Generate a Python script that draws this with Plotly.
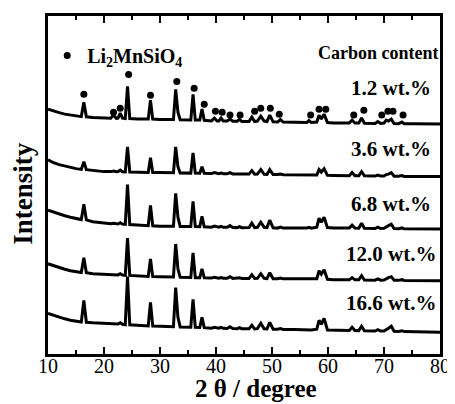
import plotly.graph_objects as go

two_theta = [10, 11, 12, 13, 14, 15,
             15.95, 16.4, 16.85,
             18, 20,
             21.2, 21.7, 22.2, 22.5, 22.9, 23.3,
             23.8, 24.2, 24.6,
             26,
             27.9, 28.3, 28.7,
             30,
             32.4, 32.8, 33.2, 33.6,
             35.5, 35.9, 36.3,
             37.1, 37.5, 37.9,
             39.2, 39.7, 40.2,
             40.5, 40.9, 41.3,
             42.0, 42.5, 43.0,
             43.8, 44.2, 44.6,
             45.9, 46.4, 46.9,
             47.4, 48.0, 48.6,
             49.1, 49.6, 50.2,
             51, 51.5, 52,
             54,
             56.2, 56.6, 57.0,
             58.0, 58.4, 58.8, 59.3, 59.9,
             61, 63,
             63.8, 64.3, 64.8,
             65.5, 66.0, 66.5,
             68.4, 68.9, 69.4,
             70.0, 70.4, 70.8, 71.3, 71.8,
             72.6, 73.2, 73.6,
             75, 77, 80]

carbon_labels = ["1.2 wt.%", "3.6 wt.%", "6.8 wt.%", "12.0 wt.%", "16.6 wt.%"]

# relative intensities (a.u.) of each pattern
i_1_2 = [15, 13, 11.5, 10, 9, 8,
         7.5, 22, 7.3,
         6.5, 6,
         5.8, 9, 5.7, 6, 11, 6,
         5.5, 38, 5.5,
         5,
         5, 24, 5,
         4.5,
         4.5, 35, 12, 4.3,
         4, 30, 4,
         4, 15, 3.8,
         3.2, 6, 3,
         3, 6, 3,
         3, 5, 2.8,
         2.7, 5, 2.6,
         2.5, 7, 2.5,
         3, 8, 3,
         2.5, 9, 2.2,
         2, 4.5, 2,
         1.8,
         1.5, 3.5, 1.5,
         2, 9, 5, 10, 1.5,
         1, 1,
         1, 4, 1,
         1, 6, 0.8,
         0.6, 2.5, 0.6,
         1, 4, 3, 5, 0.5,
         0.4, 2, 0.3,
         0.3, 0.1, 0]

i_3_6 = [17, 14, 12, 10.5, 9, 8,
         7.2, 15, 7,
         6, 5,
         5, 5.5, 4.8, 5, 6.5, 4.8,
         4.7, 30, 4.7,
         4.5,
         4.2, 19, 4.2,
         4,
         3.8, 30, 10, 3.7,
         3.5, 24, 3.5,
         3.4, 10, 3.3,
         3, 4, 3,
         3, 3.5, 2.8,
         2.8, 4, 2.7,
         2.6, 3, 2.5,
         2.5, 6, 2.4,
         2.5, 7, 2.3,
         2.2, 7, 2,
         2, 2.5, 1.8,
         1.6,
         1.3, 2, 1.3,
         1.5, 7, 4.5, 8, 1.2,
         1, 0.9,
         0.8, 4, 0.8,
         0.8, 5, 0.7,
         0.5, 1.5, 0.5,
         0.6, 2, 2.5, 4, 0.4,
         0.3, 1, 0.2,
         0.2, 0.1, 0]

i_6_8 = [19, 17, 15, 13.5, 12, 10.5,
         9.6, 25, 9.3,
         7.5, 6,
         5.5, 6, 5.2, 5.2, 6.5, 5,
         4.8, 45, 4.6,
         4,
         3.5, 24, 3.4,
         3,
         2.8, 36, 12, 2.7,
         2.6, 28, 2.6,
         2.5, 13, 2.4,
         2, 3, 2,
         2, 2.8, 1.8,
         1.8, 3.5, 1.6,
         1.5, 2.5, 1.4,
         1.5, 6, 1.5,
         1.8, 7, 1.8,
         1.5, 9, 1.3,
         1, 2, 1,
         1,
         1, 1.8, 1,
         2, 11, 7, 12, 1.5,
         1, 1,
         1, 4, 1,
         0.9, 6, 0.8,
         0.6, 2, 0.6,
         0.8, 2.5, 3.5, 5, 0.5,
         0.4, 1.2, 0.3,
         0.2, 0.1, 0]

i_12_0 = [17, 15, 13, 11.5, 10, 9,
          8.2, 23, 8,
          7, 6.5,
          6, 6.5, 5.8, 5.8, 7, 5.6,
          5.4, 43, 5.3,
          5,
          4.3, 22, 4.2,
          4,
          3.6, 37, 12, 3.4,
          3.1, 28, 3,
          3, 12, 2.9,
          2.6, 3.5, 2.5,
          2.5, 3.2, 2.4,
          2.4, 4, 2.3,
          2.3, 3, 2.2,
          2.2, 6, 2.2,
          2.4, 7, 2.3,
          2.1, 8, 2,
          1.9, 2.6, 1.8,
          1.6,
          1.3, 2, 1.3,
          1.8, 10, 6.5, 11, 1.3,
          1, 0.9,
          0.8, 3, 0.8,
          0.8, 5, 0.7,
          0.5, 1.8, 0.5,
          0.6, 2.2, 3, 4, 0.4,
          0.3, 1, 0.2,
          0.2, 0.1, 0]

i_16_6 = [19, 17, 15, 13.5, 12, 11,
          10.2, 32, 10,
          9.5, 9,
          8.6, 9, 8.3, 8.2, 9.5, 8,
          7.6, 56, 7.4,
          7,
          6.3, 30, 6.2,
          6,
          5.5, 45, 15, 5.3,
          5, 33, 5,
          4.7, 15, 4.6,
          4.1, 5, 4,
          4, 4.8, 3.9,
          3.8, 5.5, 3.7,
          3.6, 4.5, 3.5,
          3.4, 7, 3.3,
          3.6, 9, 3.4,
          3.2, 10, 3,
          2.9, 3.6, 2.8,
          2.6,
          2.3, 3, 2.3,
          3, 12, 8, 14, 2.2,
          2, 1.8,
          1.7, 5, 1.7,
          1.6, 6, 1.5,
          1.2, 2.5, 1.1,
          1.2, 3, 4, 6, 0.9,
          0.8, 1.5, 0.6,
          0.5, 0.3, 0]

patterns = [i_1_2, i_3_6, i_6_8, i_12_0, i_16_6]

# Li2MnSiO4 reflection markers (2-theta, relative intensity on the 1.2 wt.% pattern scale)
peak_2theta = [16.4, 21.7, 22.9, 24.4, 28.3, 33.0, 36.1, 37.9, 39.9, 41.1, 42.5, 44.3,
               46.9, 48.0, 49.7, 51.3, 56.9, 58.4, 59.6, 64.6, 66.4, 69.6, 70.7, 71.6, 73.4]
peak_mark = [30, 12, 16, 50, 29, 43, 36, 20, 13, 12, 9, 9,
             13, 16, 16, 10, 9, 15, 15, 9, 14, 9, 13, 13, 9]

# vertical stacking offsets (layout)
offsets = [232, 179, 126, 74, 22]
label_y = [268, 207, 151, 101, 51]

FONT = "Liberation Serif, Times New Roman, serif"

fig = go.Figure()
for vals, off, name in zip(patterns, offsets, carbon_labels):
    fig.add_trace(go.Scatter(x=two_theta, y=[v + off for v in vals], mode="lines",
                             line=dict(color="black", width=3), showlegend=False,
                             name=name, hoverinfo="skip"))

fig.add_trace(go.Scatter(x=peak_2theta, y=[v + offsets[0] for v in peak_mark], mode="markers",
                         marker=dict(color="black", size=7),
                         name="Li<sub>2</sub>MnSiO<sub>4</sub>", showlegend=True))

for lab, ly in zip(carbon_labels, label_y):
    fig.add_annotation(x=71.2, y=ly, xref="x", yref="y", text=lab,
                       showarrow=False,
                       font=dict(family=FONT, size=21, color="black", weight="bold"),
                       xanchor="center", yanchor="middle")

fig.add_annotation(x=69.0, y=304, xref="x", yref="y", text="Carbon content",
                   showarrow=False, font=dict(family=FONT, size=18, color="black", weight="bold"),
                   xanchor="center", yanchor="middle")

fig.add_annotation(x=(259 - 48) / 398, y=-35 / 341, xref="paper", yref="paper",
                   text="2 θ / degree", showarrow=False,
                   font=dict(family=FONT, size=25, color="black", weight="bold"),
                   xanchor="center", yanchor="middle")
fig.add_annotation(x=-(48 - 23) / 398, y=1 - (192 - 13) / 341, xref="paper", yref="paper",
                   text="Intensity", showarrow=False, textangle=-90,
                   font=dict(family=FONT, size=27, color="black", weight="bold"),
                   xanchor="center", yanchor="middle")

# page body adds an 8 px margin, so the figure is 8 px smaller in each direction
fig.update_layout(
    width=447, height=396,
    margin=dict(l=40, r=9, t=5, b=50),
    paper_bgcolor="white", plot_bgcolor="white",
    font=dict(family=FONT, color="black"),
    legend=dict(x=-0.002, y=0.941, xanchor="left", yanchor="top",
                bgcolor="rgba(0,0,0,0)",
                font=dict(family=FONT, size=20, color="black", weight="bold"),
                itemwidth=30, tracegroupgap=0),
    xaxis=dict(range=[10, 80], dtick=10, tick0=10, ticks="inside", ticklen=7, tickwidth=2,
               tickcolor="black", showline=True, linewidth=3, linecolor="black", mirror="ticks",
               showgrid=False, zeroline=False, ticklabelstandoff=-8, ticklabeloverflow="allow",
               tickfont=dict(family=FONT, size=20, color="black"),
               minor=dict(dtick=5, ticks="inside", ticklen=4, tickwidth=1.5,
                          tickcolor="black")),
    yaxis=dict(range=[0, 341], showticklabels=False, ticks="", showline=True, linewidth=3,
               linecolor="black", mirror=True, showgrid=False, zeroline=False),
)

fig.write_html("out.html")
